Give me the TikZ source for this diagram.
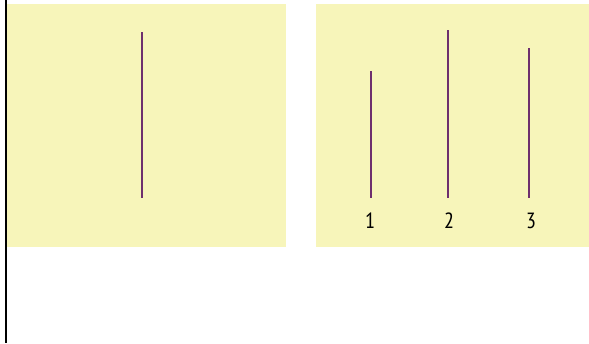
\documentclass[tikz,border=0pt]{standalone}
\usepackage{fontspec}
\setsansfont{PT Sans Narrow}
\usepackage{tikz}
\usetikzlibrary{positioning}
\definecolor{pad}{HTML}{F7F5BA}
\definecolor{plum}{HTML}{6E2F6E}
\tikzset{
  panel/.style={fill=pad,draw=none},
  stick/.style={draw=plum,line width=1.6pt},
  tag/.style={font=\sffamily\fontsize{22}{22}\selectfont,text=black,inner sep=0pt},
}
\begin{document}
\begin{tikzpicture}[x=1pt,y=-1pt]
  \useasboundingbox (0,0) rectangle (589,343);
  \fill[white] (0,0) rectangle (589,343);
  \fill[panel] (7,4) rectangle (286,247);
  \fill[panel] (316,4) rectangle (589,247);
  \draw[line width=2pt] (6,0) -- (6,343);
  % single stick
  \draw[stick] (142,32) -- (142,198);
  % three sticks
  \draw[stick] (371,71) -- (371,198);
  \draw[stick] (448,30) -- (448,198);
  \draw[stick] (529,48) -- (529,198);
  \node[tag] (n1) at (370,221) {1};
  \node[tag] (n2) at (449,221) {2};
  \node[tag] (n3) at (531,221) {3};
\end{tikzpicture}
\end{document}
